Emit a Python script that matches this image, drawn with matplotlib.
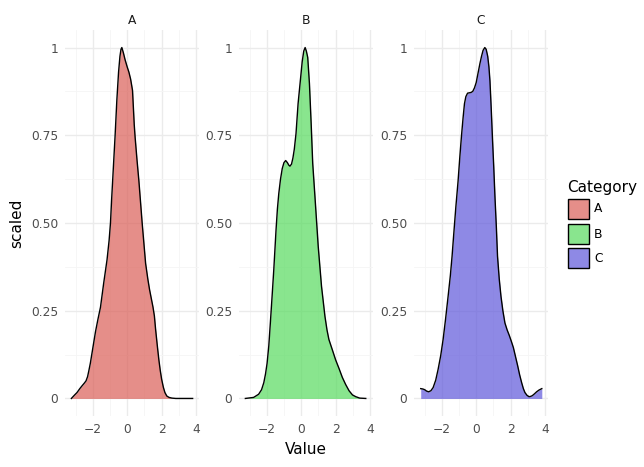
import numpy as np
import matplotlib
matplotlib.use("Agg")
import matplotlib.pyplot as plt
from matplotlib.patches import Rectangle

# ---------- data ----------
categories = ["A", "B", "C"]
fill_colors = ["#db5f57", "#57db5f", "#5f57db"]

a_x = [-3.24, -3.05, -2.91, -2.75, -2.62, -2.50, -2.39, -2.30, -2.23, -2.14, -2.04,
       -1.84, -1.70, -1.55, -1.36, -1.17, -1.05, -0.97, -0.90, -0.80, -0.70, -0.60,
       -0.50, -0.42, -0.36, -0.31, -0.22, -0.12, 0.0, 0.10, 0.20, 0.31, 0.41, 0.46,
       0.57, 0.68, 0.87, 1.07, 1.20, 1.30, 1.40, 1.50, 1.58, 1.65, 1.75, 1.84, 1.92,
       2.0, 2.10, 2.19, 2.30, 2.43, 2.60, 2.82, 3.80]
a_y = [0.0, 0.01, 0.017, 0.028, 0.036, 0.043, 0.05, 0.062, 0.078, 0.10, 0.13,
       0.19, 0.225, 0.26, 0.33, 0.395, 0.45, 0.50, 0.57, 0.66, 0.75, 0.85,
       0.93, 0.975, 0.995, 1.0, 0.985, 0.965, 0.945, 0.93, 0.91, 0.878, 0.78, 0.745,
       0.68, 0.62, 0.50, 0.385, 0.34, 0.31, 0.285, 0.26, 0.235, 0.197, 0.15, 0.11, 0.08,
       0.055, 0.032, 0.017, 0.007, 0.003, 0.001, 0.0, 0.0]

b_x = [-3.24, -2.76, -2.47, -2.30, -2.17, -2.07, -1.98, -1.88, -1.79, -1.69, -1.59,
       -1.46, -1.38, -1.30, -1.20, -1.10, -1.00, -0.90, -0.80, -0.72, -0.65, -0.56,
       -0.48, -0.40, -0.30, -0.18, -0.06, 0.06, 0.15, 0.23, 0.30, 0.38, 0.48, 0.58,
       0.67, 0.80, 0.99, 1.18, 1.38, 1.50, 1.61, 1.80, 2.0, 2.20, 2.39, 2.58, 2.78,
       2.98, 3.17, 3.40, 3.75]
b_y = [0.0, 0.003, 0.012, 0.025, 0.045, 0.07, 0.10, 0.15, 0.215, 0.29, 0.367,
       0.48, 0.54, 0.584, 0.625, 0.655, 0.672, 0.678, 0.672, 0.665, 0.662, 0.668,
       0.685, 0.71, 0.755, 0.84, 0.90, 0.96, 0.99, 1.0, 0.99, 0.972, 0.897, 0.783,
       0.67, 0.575, 0.433, 0.32, 0.234, 0.195, 0.168, 0.14, 0.11, 0.085, 0.06, 0.04, 0.022,
       0.01, 0.005, 0.001, 0.0]

c_x = [-3.22, -3.10, -2.99, -2.88, -2.76, -2.63, -2.50, -2.35, -2.21, -2.06, -1.92,
       -1.78, -1.63, -1.50, -1.40, -1.30, -1.18, -1.05, -0.95, -0.85, -0.76, -0.68,
       -0.60, -0.50, -0.40, -0.30, -0.20, -0.10, 0.0, 0.12, 0.22, 0.31, 0.40, 0.50,
       0.58, 0.67, 0.74, 0.80, 0.87, 0.95, 1.02, 1.09, 1.17, 1.24, 1.34, 1.44, 1.55,
       1.67, 1.80, 1.92, 2.04, 2.16, 2.28, 2.41, 2.52, 2.64, 2.74, 2.83, 2.95, 3.07,
       3.17, 3.26, 3.38, 3.51, 3.65, 3.81]
c_y = [0.028, 0.027, 0.025, 0.021, 0.019, 0.022, 0.031, 0.052, 0.083, 0.122, 0.168,
       0.225, 0.291, 0.35, 0.405, 0.47, 0.546, 0.62, 0.688, 0.75, 0.80, 0.84,
       0.86, 0.87, 0.871, 0.872, 0.875, 0.885, 0.90, 0.93, 0.955, 0.975, 0.992, 1.0,
       0.995, 0.975, 0.945, 0.905, 0.83, 0.736, 0.66, 0.575, 0.49, 0.405, 0.34, 0.291, 0.25,
       0.215, 0.195, 0.18, 0.163, 0.145, 0.12, 0.093, 0.068, 0.045, 0.028, 0.017, 0.009, 0.005,
       0.006, 0.008, 0.013, 0.019, 0.024, 0.028]

curves = {"A": (a_x, a_y), "B": (b_x, b_y), "C": (c_x, c_y)}

x_ticks = [-2, 0, 2, 4]
x_minor = [-3, -1, 1, 3]
y_ticks = [0, 0.25, 0.5, 0.75, 1]
y_labels = ["0", "0.25", "0.50", "0.75", "1"]
y_minor = [0.125, 0.375, 0.625, 0.875]

# ---------- figure ----------
W, H = 644, 467
fig = plt.figure(figsize=(W / 100, H / 100), dpi=100)

panel_left = [65, 239, 414]
panel_w = 134
top, bottom = 30, 416

tick_col = "#4d4d4d"
grid_major = "#ebebeb"
grid_minor = "#f5f5f5"

for i, cat in enumerate(categories):
    ax = fig.add_axes([panel_left[i] / W, 1 - bottom / H, panel_w / W, (bottom - top) / H])
    xs, ys = curves[cat]
    ax.fill_between(xs, 0, ys, color=fill_colors[i], alpha=0.7, linewidth=0)
    ax.plot(xs, ys, color="black", lw=1.0, solid_joinstyle="round")

    ax.set_xlim(-3.61, 4.17)
    ax.set_ylim(-0.05, 1.05)
    ax.set_xticks(x_ticks)
    ax.set_xticklabels(["\u22122", "0", "2", "4"])
    ax.set_xticks(x_minor, minor=True)
    ax.set_yticks(y_ticks)
    ax.set_yticklabels(y_labels)
    ax.set_yticks(y_minor, minor=True)
    ax.grid(True, which="major", color=grid_major, lw=1.0, zorder=0)
    ax.grid(True, which="minor", color=grid_minor, lw=0.6, zorder=0)
    ax.set_axisbelow(True)
    for s in ax.spines.values():
        s.set_visible(False)
    ax.tick_params(which="both", length=0, labelsize=8.8, labelcolor=tick_col, pad=5)
    ax.set_title(cat, fontsize=8.8, color="#1a1a1a", pad=4)

fig.text(306 / W, 1 - 449 / H, "Value", ha="center", va="center", fontsize=11)
fig.text(17 / W, 1 - 223 / H, "scaled", ha="center", va="center", rotation=90, fontsize=11)

# legend
fig.text(567 / W, 1 - 188 / H, "Category", ha="left", va="center", fontsize=11)
key_top = [199, 224, 248]
for i, cat in enumerate(categories):
    y0 = key_top[i]
    fig.patches.append(Rectangle((568 / W, 1 - (y0 + 20) / H), 21 / W, 20 / H,
                                 transform=fig.transFigure, facecolor=fill_colors[i],
                                 alpha=0.7, edgecolor="none"))
    fig.patches.append(Rectangle((568 / W, 1 - (y0 + 20) / H), 21 / W, 20 / H,
                                 transform=fig.transFigure, facecolor="none",
                                 edgecolor="black", lw=1.0))
    fig.text(594 / W, 1 - (y0 + 10) / H, cat, ha="left", va="center", fontsize=8.8)

fig.savefig("out.png", dpi=100)
